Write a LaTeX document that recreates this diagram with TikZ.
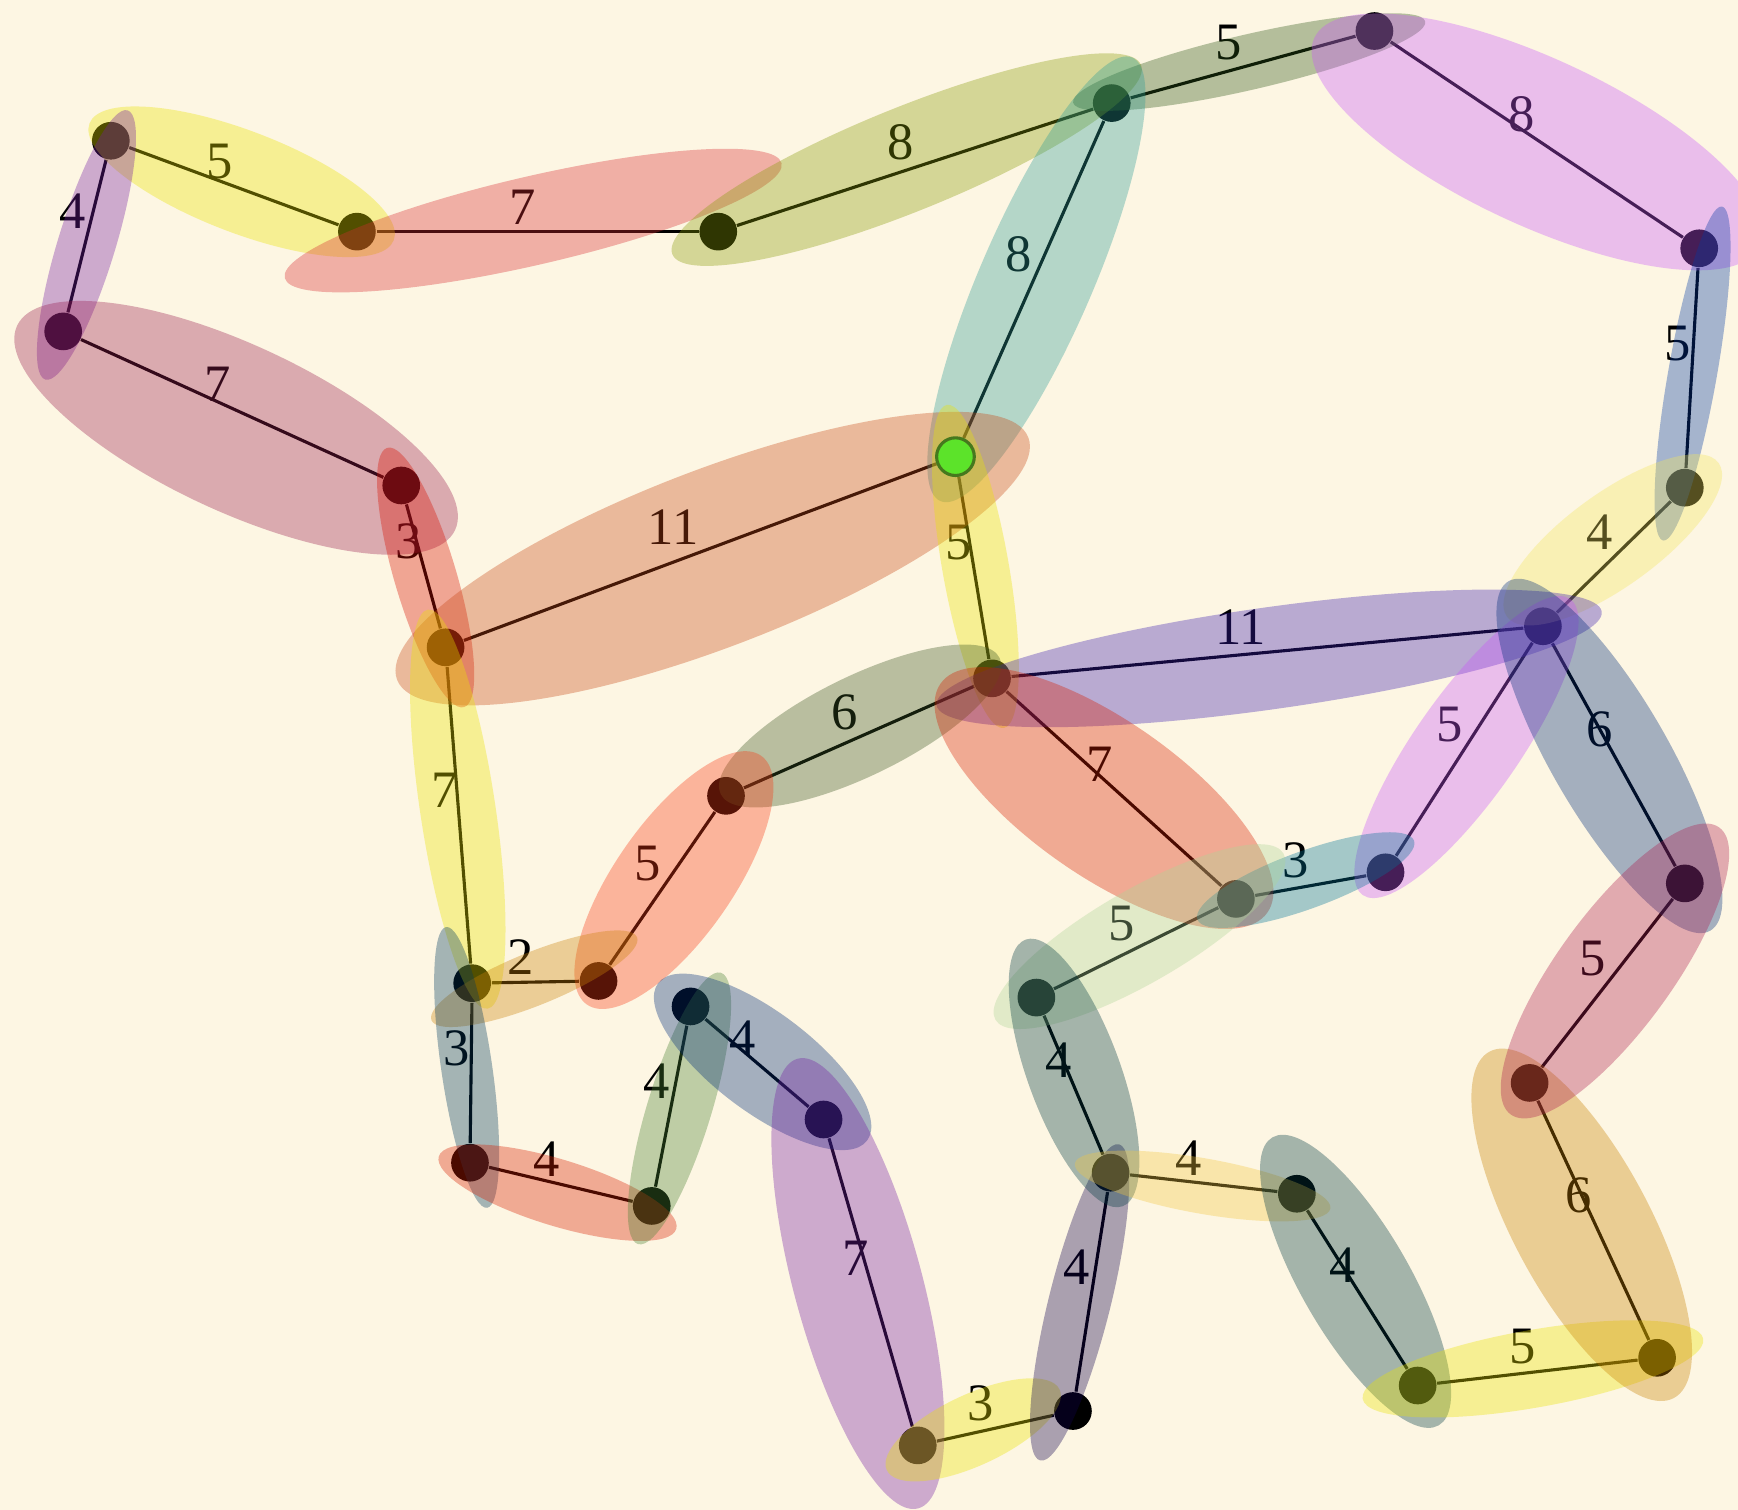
\documentclass[tikz,border=0pt]{standalone}
\usepackage{fontspec}
\setmainfont{Liberation Serif}
\definecolor{paper}{RGB}{253,246,227}
\definecolor{srcgreen}{RGB}{92,227,42}
\definecolor{srcedge}{RGB}{70,120,30}
\definecolor{hlyellow}{RGB}{235,228,0}
\definecolor{hlsalmon}{RGB}{216,43,50}
\definecolor{hlolive}{RGB}{136,155,7}
\definecolor{hlsage}{RGB}{44,86,21}
\definecolor{hlmagenta}{RGB}{201,86,250}
\definecolor{hlteal}{RGB}{44,157,150}
\definecolor{hlblue}{RGB}{2,57,164}
\definecolor{hlcream}{RGB}{244,229,93}
\definecolor{hlmaroon}{RGB}{153,29,79}
\definecolor{hlred}{RGB}{216,15,0}
\definecolor{hlrust}{RGB}{201,72,22}
\definecolor{hlindigo}{RGB}{59,29,178}
\definecolor{hlslate}{RGB}{0,43,121}
\definecolor{hlmoss}{RGB}{59,86,35}
\definecolor{hlvermilion}{RGB}{216,29,0}
\definecolor{hlcyan}{RGB}{0,115,150}
\definecolor{hllime}{RGB}{173,214,150}
\definecolor{hlorange}{RGB}{250,58,21}
\definecolor{hlochre}{RGB}{204,129,7}
\definecolor{hlpine}{RGB}{0,57,93}
\definecolor{hlfern}{RGB}{73,129,50}
\definecolor{hlviolet}{RGB}{116,29,164}
\definecolor{hlplum}{RGB}{16,0,79}
\definecolor{hlspruce}{RGB}{0,57,64}
\definecolor{hlgold}{RGB}{244,200,64}
\definecolor{hlamber}{RGB}{201,129,0}
\definecolor{hlrose}{RGB}{173,29,79}
\pgfdeclarelayer{hl}
\pgfdeclarelayer{top}
\pgfsetlayers{main,hl,top}
% colour, centre, angle, half length, half width
\newcommand{\halo}[5]{\fill[blob,#1,rotate around={#3:(#2)}] (#2) ellipse [x radius=#4, y radius=#5];}

\begin{document}
\begin{tikzpicture}[
  x=0.1mm, y=-0.1mm,
  vtx/.style={circle, fill=black, inner sep=0pt, minimum size=3.4mm},
  srcvtx/.style={vtx, fill=srcgreen, draw=srcedge, line width=0.8pt},
  link/.style={line width=0.8pt},
  lbl/.style={anchor=south east, inner xsep=0pt, inner ysep=1.5pt, font=\fontsize{13.5}{15}\selectfont},
  blob/.style={opacity=0.35},
]
  \fill[paper] (0,0) rectangle (1568,1362);
  \useasboundingbox (0,0) rectangle (1568,1362);

  % Vertices
  \node[vtx] (v1) at (100,127) {};
  \node[vtx] (v2) at (322,209) {};
  \node[vtx] (v3) at (648,209) {};
  \node[vtx] (v4) at (1003,93) {};
  \node[vtx] (v5) at (1240,28) {};
  \node[vtx] (v6) at (1533,224) {};
  \node[vtx] (v7) at (1520,440) {};
  \node[vtx] (v8) at (1392,565) {};
  \node[vtx] (v9) at (57,299) {};
  \node[vtx] (v10) at (362,438) {};
  \node[vtx] (v11) at (402,584) {};
  \begin{pgfonlayer}{top}
    \node[srcvtx] (root) at (862,412) {};
  \end{pgfonlayer}
  \node[vtx] (v13) at (895,612) {};
  \node[vtx] (v14) at (655,718) {};
  \node[vtx] (v15) at (540,885) {};
  \node[vtx] (v16) at (426,887) {};
  \node[vtx] (v17) at (424,1049) {};
  \node[vtx] (v18) at (588,1088) {};
  \node[vtx] (v19) at (623,908) {};
  \node[vtx] (v20) at (743,1010) {};
  \node[vtx] (v21) at (828,1304) {};
  \node[vtx] (v22) at (968,1273) {};
  \node[vtx] (v23) at (1002,1058) {};
  \node[vtx] (v24) at (1170,1077) {};
  \node[vtx] (v25) at (1279,1250) {};
  \node[vtx] (v26) at (1495,1225) {};
  \node[vtx] (v27) at (1380,977) {};
  \node[vtx] (v28) at (1520,797) {};
  \node[vtx] (v29) at (1250,787) {};
  \node[vtx] (v30) at (1115,811) {};
  \node[vtx] (v31) at (935,900) {};

  % Weighted edges
  \draw[link] (v1) -- node[lbl] {5} (v2);
  \draw[link] (v1) -- node[lbl] {4} (v9);
  \draw[link] (v2) -- node[lbl] {7} (v3);
  \draw[link] (v3) -- node[lbl] {8} (v4);
  \draw[link] (v4) -- node[lbl] {5} (v5);
  \draw[link] (v5) -- node[lbl] {8} (v6);
  \draw[link] (v4) -- node[lbl] {8} (root);
  \draw[link] (v6) -- node[lbl] {5} (v7);
  \draw[link] (v7) -- node[lbl] {4} (v8);
  \draw[link] (v9) -- node[lbl] {7} (v10);
  \draw[link] (v10) -- node[lbl] {3} (v11);
  \draw[link] (v11) -- node[lbl] {11} (root);
  \draw[link] (root) -- node[lbl] {5} (v13);
  \draw[link] (v13) -- node[lbl] {11} (v8);
  \draw[link] (v8) -- node[lbl] {5} (v29);
  \draw[link] (v8) -- node[lbl] {6} (v28);
  \draw[link] (v13) -- node[lbl] {6} (v14);
  \draw[link] (v13) -- node[lbl] {7} (v30);
  \draw[link] (v30) -- node[lbl] {3} (v29);
  \draw[link] (v30) -- node[lbl] {5} (v31);
  \draw[link] (v14) -- node[lbl] {5} (v15);
  \draw[link] (v11) -- node[lbl] {7} (v16);
  \draw[link] (v16) -- node[lbl] {2} (v15);
  \draw[link] (v16) -- node[lbl] {3} (v17);
  \draw[link] (v17) -- node[lbl] {4} (v18);
  \draw[link] (v18) -- node[lbl] {4} (v19);
  \draw[link] (v19) -- node[lbl] {4} (v20);
  \draw[link] (v20) -- node[lbl] {7} (v21);
  \draw[link] (v21) -- node[lbl] {3} (v22);
  \draw[link] (v22) -- node[lbl] {4} (v23);
  \draw[link] (v31) -- node[lbl] {4} (v23);
  \draw[link] (v23) -- node[lbl] {4} (v24);
  \draw[link] (v24) -- node[lbl] {4} (v25);
  \draw[link] (v25) -- node[lbl] {5} (v26);
  \draw[link] (v26) -- node[lbl] {6} (v27);
  \draw[link] (v27) -- node[lbl] {5} (v28);

  % Highlights over the edges
  \begin{pgfonlayer}{hl}
    \halo{hlyellow}{218,164}{-21}{147}{46}
    \halo{hlviolet}{78,221}{-107}{127}{26}
    \halo{hlsalmon}{481,199}{13}{230}{40}
    \halo{hlolive}{818,144}{22}{228}{47}
    \halo{hlsage}{1127,56}{13}{163}{25}
    \halo{hlmagenta}{1387,128}{-25}{222}{75}
    \halo{hlteal}{935,252}{-113.4}{218}{51}
    \halo{hlblue}{1527,337}{-100}{153}{22}
    \halo{hlcream}{1455,487}{36}{118}{42}
    \halo{hlmaroon}{213,386}{-25}{218}{75}
    \halo{hlred}{384,521}{-73.5}{122}{28}
    \halo{hlrust}{643,504}{21}{305}{80}
    \halo{hlyellow}{880,511}{-80}{148}{30}
    \halo{hlindigo}{1145,594}{8}{303}{46}
    \halo{hlmagenta}{1323,674}{55}{163}{47}
    \halo{hlslate}{1452,682}{-60}{182}{53}
    \halo{hlmoss}{776,655}{26}{140}{45}
    \halo{hlvermilion}{996,720}{-35}{180}{70}
    \halo{hlcyan}{1178,794}{20}{104}{26}
    \halo{hllime}{1028,845}{30}{150}{42}
    \halo{hlorange}{608,794}{55}{137}{53}
    \halo{hlyellow}{413,730}{-81.5}{182}{34}
    \halo{hlochre}{482,883}{22}{100}{24}
    \halo{hlpine}{421,963}{-81.7}{128}{23}
    \halo{hlvermilion}{503,1076}{-17}{112}{30}
    \halo{hlfern}{613,1000}{73}{128}{29}
    \halo{hlslate}{688,958}{-37}{118}{45}
    \halo{hlviolet}{774,1158}{-75}{210}{58}
    \halo{hlyellow}{878,1290}{25}{86}{32}
    \halo{hlplum}{974,1175}{76}{147}{28}
    \halo{hlspruce}{969,968}{-70}{128}{42}
    \halo{hlgold}{1085,1070}{-10}{117}{25}
    \halo{hlspruce}{1223,1156}{-60}{150}{49}
    \halo{hlyellow}{1383,1235}{10}{156}{35}
    \halo{hlamber}{1427,1105}{-62}{177}{62}
    \halo{hlrose}{1457,876}{54}{160}{52}
  \end{pgfonlayer}
\end{tikzpicture}
\end{document}
